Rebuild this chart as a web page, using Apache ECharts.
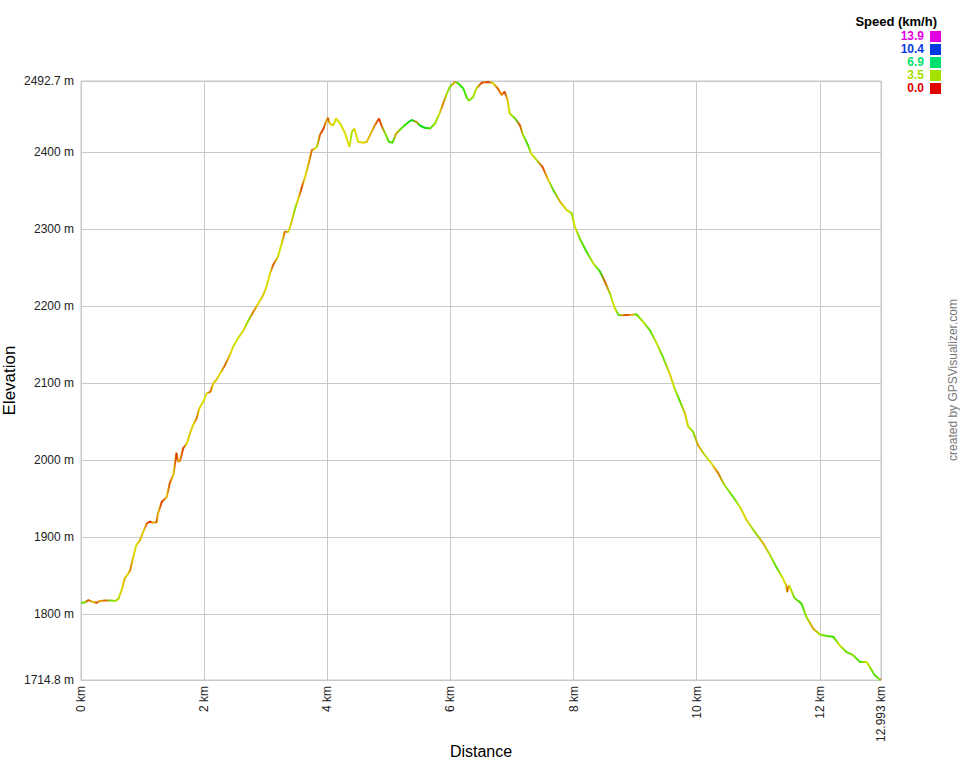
<!DOCTYPE html>
<html>
<head>
<meta charset="utf-8">
<title>Elevation profile</title>
<script src="https://cdn.jsdelivr.net/npm/echarts@6/dist/echarts.min.js"></script>
<style>
  html, body { margin: 0; padding: 0; background: #fff; }
  #chart { width: 960px; height: 760px; }
</style>
</head>
<body>
<div id="chart"></div>
<script>
// distance along the track, km
const distance = [
  0.00, 0.05, 0.12, 0.20, 0.25, 0.31, 0.40, 0.48, 0.56, 0.61,
  0.66, 0.71, 0.76, 0.80, 0.85, 0.90, 0.96, 1.01, 1.07, 1.12,
  1.18, 1.23, 1.25, 1.31, 1.39, 1.44, 1.50, 1.55, 1.58, 1.61,
  1.66, 1.72, 1.77, 1.82, 1.88, 1.92, 1.99, 2.04, 2.10, 2.15,
  2.21, 2.26, 2.34, 2.42, 2.47, 2.55, 2.64, 2.72, 2.80, 2.88,
  2.96, 3.01, 3.07, 3.12, 3.20, 3.26, 3.31, 3.37, 3.42, 3.47,
  3.53, 3.58, 3.64, 3.69, 3.75, 3.80, 3.83, 3.88, 3.94, 3.99,
  4.01, 4.04, 4.10, 4.14, 4.21, 4.29, 4.36, 4.40, 4.44, 4.50,
  4.59, 4.64, 4.72, 4.77, 4.84, 4.88, 4.94, 5.00, 5.06, 5.12,
  5.20, 5.29, 5.37, 5.45, 5.50, 5.58, 5.67, 5.75, 5.82, 5.88,
  5.94, 5.99, 6.07, 6.12, 6.21, 6.26, 6.30, 6.37, 6.42, 6.50,
  6.56, 6.61, 6.69, 6.77, 6.83, 6.88, 6.93, 6.96, 7.05, 7.13,
  7.18, 7.26, 7.31, 7.40, 7.50, 7.59, 7.67, 7.78, 7.89, 7.97,
  8.02, 8.10, 8.21, 8.32, 8.43, 8.51, 8.59, 8.67, 8.73, 8.80,
  8.86, 8.95, 9.02, 9.13, 9.24, 9.35, 9.45, 9.56, 9.64, 9.72,
  9.81, 9.86, 9.94, 10.02, 10.13, 10.24, 10.35, 10.45, 10.59, 10.70,
  10.81, 10.94, 11.08, 11.19, 11.29, 11.40, 11.45, 11.47, 11.50, 11.59,
  11.70, 11.78, 11.89, 12.00, 12.11, 12.22, 12.32, 12.43, 12.54, 12.65,
  12.76, 12.81, 12.89, 12.97, 12.993
];

// elevation, m
const elevation = [
  1815, 1815, 1818.5, 1816, 1815, 1817.5, 1818, 1818, 1817.5, 1820.5,
  1831.7, 1846.9, 1852, 1857.7, 1874.9, 1890, 1896.6, 1907.4, 1918.3, 1920.4,
  1919, 1920, 1931, 1946, 1952, 1970, 1981, 2010, 1998, 2000,
  2015.7, 2022, 2035, 2046, 2055, 2067, 2077, 2087, 2089, 2100,
  2106, 2113, 2124, 2137, 2147.6, 2158.5, 2169, 2182, 2193, 2203.8,
  2214.8, 2225, 2243, 2253.8, 2264.6, 2282, 2297, 2297, 2310, 2325,
  2340.3, 2353, 2368, 2383.6, 2403, 2405, 2407, 2422.6, 2431, 2442,
  2445, 2437.5, 2435, 2444, 2437.5, 2424.6, 2407, 2426.7, 2431, 2413.7,
  2412.5, 2413.7, 2426.7, 2435, 2444, 2435, 2424.6, 2413.7, 2412.5, 2424.6,
  2431, 2437.5, 2442, 2439.5, 2435, 2432, 2431, 2437.5, 2450, 2463,
  2476, 2485, 2491.5, 2490, 2483, 2472, 2467, 2472, 2483, 2490,
  2491, 2491.5, 2490, 2483, 2474.5, 2478.9, 2468, 2450.7, 2444, 2435,
  2422.6, 2409.5, 2398.8, 2390, 2380.5, 2364, 2351, 2336, 2325, 2320.7,
  2303.5, 2288.2, 2271, 2256, 2245, 2232, 2217, 2197.6, 2188.9, 2188.5,
  2188.9, 2189, 2189.8, 2180, 2169, 2152, 2134.5, 2113, 2093.6, 2078.4,
  2061, 2044, 2037.3, 2020, 2007, 1996, 1983.2, 1968, 1952.8, 1939.8,
  1922.6, 1907.4, 1892.3, 1877, 1862, 1846.8, 1838, 1829, 1838, 1820.9,
  1814.3, 1797, 1781.8, 1774, 1772, 1770.9, 1760, 1751.3, 1747, 1738.3,
  1738.3, 1731.8, 1721, 1715.7, 1715
];

// speed, km/h
const speed = [
  4.5, 4.0, 1.0, 2.6, 0.8, 2.2, 1.2, 4.2, 3.5, 3.3,
  2.6, 2.2, 2.8, 1.5, 2.6, 2.9, 2.2, 2.7, 1.2, 0.6,
  2.4, 1.0, 2.6, 0.5, 2.4, 1.0, 2.6, 0.5, 2.2, 1.6,
  0.8, 2.7, 2.4, 2.8, 1.4, 2.6, 2.8, 2.9, 1.2, 2.6,
  2.4, 2.8, 1.2, 2.6, 2.9, 3.0, 2.6, 3.8, 1.5, 2.8,
  2.4, 2.9, 2.8, 1.0, 2.9, 3.0, 1.2, 3.0, 2.4, 3.8,
  2.6, 0.8, 2.8, 2.2, 1.2, 2.8, 3.4, 1.2, 0.8, 2.4,
  0.6, 2.6, 3.0, 2.8, 2.8, 2.9, 2.8, 3.6, 2.7, 2.8,
  2.6, 2.4, 2.2, 1.6, 0.7, 1.2, 4.0, 4.5, 4.8, 2.0,
  4.4, 5.0, 6.0, 1.8, 5.5, 5.8, 4.5, 3.8, 3.0, 1.5,
  3.5, 4.0, 2.0, 4.8, 5.0, 4.6, 4.0, 3.6, 3.2, 0.8,
  1.5, 0.6, 2.8, 1.2, 1.8, 0.7, 2.5, 3.0, 4.5, 1.0,
  3.5, 4.8, 2.8, 3.5, 0.8, 2.6, 4.6, 2.2, 3.0, 3.6,
  2.8, 4.2, 4.8, 3.0, 5.0, 1.2, 3.6, 2.8, 4.6, 1.8,
  0.8, 2.2, 4.4, 3.2, 4.6, 3.0, 4.4, 2.6, 3.2, 4.6,
  2.4, 3.0, 4.0, 2.0, 3.4, 2.8, 1.5, 3.6, 4.4, 3.0,
  2.6, 3.8, 2.2, 3.4, 4.6, 2.8, 3.0, 0.8, 2.8, 4.2,
  4.8, 3.6, 2.0, 3.6, 4.4, 4.8, 3.0, 4.5, 3.8, 4.8,
  2.8, 3.6, 4.6, 4.0, 1.2
];

const yTicks = [1714.8, 1800, 1900, 2000, 2100, 2200, 2300, 2400, 2492.7];
const xTicks = [0, 2, 4, 6, 8, 10, 12, 12.993];
const legendValues = [13.9, 10.4, 6.9, 3.5, 0.0];

const speedMax = 13.9;

// hue 0 (red) .. 300 (magenta), like the speed scale
function speedColor(s) {
  let h = Math.max(0, Math.min(1, s / speedMax)) * 300;
  let v = 224;
  let f = (h % 60) / 60;
  let up = Math.round(v * f), down = Math.round(v * (1 - f));
  let rgb;
  switch (Math.floor(h / 60)) {
    case 0: rgb = [v, up, 0]; break;
    case 1: rgb = [down, v, 0]; break;
    case 2: rgb = [0, v, up]; break;
    case 3: rgb = [0, down, v]; break;
    case 4: rgb = [up, 0, v]; break;
    default: rgb = [v, 0, v];
  }
  return 'rgb(' + rgb.join(',') + ')';
}

const points = distance.map((d, i) => [d, elevation[i]]);
const dMax = distance[distance.length - 1];
const stops = distance.map((d, i) => ({ offset: d / dMax, color: speedColor(speed[i]) }));

const font = '"Liberation Sans", Arial, sans-serif';
const gridColor = '#c8c8c8';

let myChart = echarts.init(document.getElementById('chart'), null, { renderer: 'svg' });

// speed legend
let legendItems = [{
  type: 'text',
  style: { text: 'Speed (km/h)', x: 937, y: 21, textAlign: 'right', textVerticalAlign: 'middle',
    fill: '#000', font: 'bold 13px ' + font }
}];
legendValues.forEach((v, i) => {
  let c = speedColor(v);
  legendItems.push({
    type: 'text',
    style: { text: v.toFixed(1), x: 924, y: 36 + i * 13, textAlign: 'right', textVerticalAlign: 'middle',
      fill: c, font: 'bold 12px ' + font, lineHeight: 12 }
  });
  legendItems.push({
    type: 'rect',
    shape: { x: 930, y: 31 + i * 13, width: 11, height: 11 },
    style: { fill: c }
  });
});

myChart.setOption({
  animation: false,
  backgroundColor: '#fff',
  grid: {
    left: 81, right: 79, top: 81, bottom: 80,
    outerBoundsMode: 'none',
    containLabel: false,
    show: true, borderColor: gridColor, borderWidth: 1
  },
  xAxis: {
    type: 'value',
    min: 0,
    max: dMax,
    name: 'Distance',
    nameLocation: 'middle',
    nameGap: 63,
    nameMoveOverlap: false,
    nameTextStyle: { fontSize: 16, color: '#000', fontFamily: font },
    axisLine: { lineStyle: { color: gridColor } },
    axisTick: { show: false, customValues: xTicks },
    splitLine: { lineStyle: { color: gridColor } },
    axisLabel: {
      customValues: xTicks,
      rotate: 90,
      margin: 6,
      fontSize: 12,
      color: '#222',
      fontFamily: font,
      formatter: v => v + ' km'
    }
  },
  yAxis: {
    type: 'value',
    min: 1714.8,
    max: 2492.7,
    name: 'Elevation',
    nameLocation: 'middle',
    nameGap: 63,
    nameMoveOverlap: false,
    nameTextStyle: { fontSize: 17, color: '#000', fontFamily: font },
    axisLine: { show: true, lineStyle: { color: gridColor } },
    axisTick: { show: false, customValues: yTicks },
    splitLine: { lineStyle: { color: gridColor } },
    axisLabel: {
      customValues: yTicks,
      margin: 7,
      fontSize: 12,
      color: '#222',
      fontFamily: font,
      formatter: v => v + ' m'
    }
  },
  graphic: [
    { type: 'group', children: legendItems },
    {
      type: 'text',
      x: 953,
      y: 380,
      rotation: Math.PI / 2,
      style: { text: 'created by GPSVisualizer.com', textAlign: 'center', textVerticalAlign: 'middle',
        fill: '#777', font: '12px ' + font }
    }
  ],
  series: [{
    type: 'line',
    data: points,
    showSymbol: false,
    symbol: 'none',
    lineStyle: {
      width: 2,
      color: new echarts.graphic.LinearGradient(0, 0, 1, 0, stops)
    }
  }]
});
</script>
</body>
</html>
